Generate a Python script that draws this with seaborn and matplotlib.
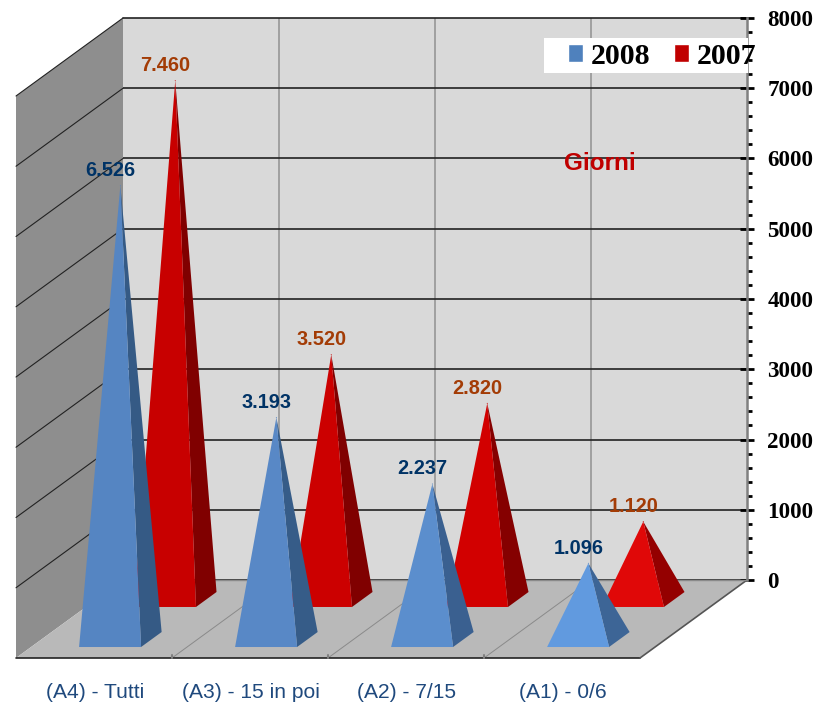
import matplotlib
matplotlib.use("Agg")
import matplotlib.pyplot as plt
from matplotlib.patches import Patch, Polygon, Rectangle
from matplotlib.ticker import MultipleLocator
import pandas as pd
import seaborn as sns

categories = ["(A4) - Tutti", "(A3) - 15 in poi", "(A2) - 7/15", "(A1) - 0/6"]
values_2008 = [6526, 3193, 2237, 1096]
values_2007 = [7460, 3520, 2820, 1120]
value_labels_2008 = ["6.526", "3.193", "2.237", "1.096"]
value_labels_2007 = ["7.460", "3.520", "2.820", "1.120"]

front_2008 = ["#5585c2", "#5888c6", "#5b8ecd", "#619adf"]
side_2008 = ["#355a85", "#365c88", "#3a6090", "#3d6596"]
front_2007 = ["#c80000", "#cc0000", "#d20000", "#e00808"]
side_2007 = ["#800000", "#800000", "#850000", "#940000"]

W, H = 818, 703
WALL_L, WALL_R, WALL_B, WALL_T = 123, 747, 580, 18
PX_PER_CAT = (WALL_R - WALL_L) / 4
PX_PER_VAL = (WALL_B - WALL_T) / 8000
DEPTH_DX, DEPTH_DY = 107, 78
SHX = DEPTH_DX / PX_PER_CAT
SHY = DEPTH_DY / PX_PER_VAL


def proj(x, depth, v=0.0):
    return x + (depth - 1) * SHX, v - (1 - depth) * SHY


sns.set_theme(style="white")
fig = plt.figure(figsize=(W / 100, H / 100), dpi=100, facecolor="white")
ax = fig.add_axes([WALL_L / W, 1 - WALL_B / H, (WALL_R - WALL_L) / W, (WALL_B - WALL_T) / H])
ax.set_facecolor("#d9d9d9")

# side wall and floor
ax.add_patch(Polygon([proj(0, 0, 0), proj(0, 1, 0), proj(0, 1, 8000), proj(0, 0, 8000)],
                     closed=True, fc="#8e8e8e", ec="none", clip_on=False, zorder=1))
ax.add_patch(Polygon([proj(0, 0), proj(4, 0), proj(4, 1), proj(0, 1)],
                     closed=True, fc="#b9b9b9", ec="none", clip_on=False, zorder=1.2))
for v in range(1000, 9000, 1000):
    ax.plot(*zip(proj(0, 0, v), proj(0, 1, v)), color="#222222", lw=0.8, clip_on=False, zorder=1.4)
for c in (1, 2, 3):
    ax.plot(*zip(proj(c, 0), proj(c, 1)), color="#8a8a8a", lw=0.7, clip_on=False, zorder=1.4)
    ax.plot(*zip(proj(c, 0, 0), proj(c, 0, 40)), color="#808080", lw=1.5, clip_on=False, zorder=1.6)
ax.plot(*zip(proj(0, 0), proj(4, 0)), color="#222222", lw=1.2, clip_on=False, zorder=1.5)
ax.plot(*zip(proj(4, 0), proj(4, 1)), color="#555555", lw=1.2, clip_on=False, zorder=1.5)

# pyramids
HALF = 31 / PX_PER_CAT
HEIGHT_FIX = 0.99
PYR_SHIFT = 1 / PX_PER_CAT
apex_rows = []


def pyramid(i, val, d_front, d_back, fc_front, fc_side):
    cx = i + 0.5 + PYR_SHIFT
    fl = proj(cx - HALF, d_front)
    fr = proj(cx + HALF, d_front)
    br = proj(cx + HALF, d_back)
    ax_c, y_c = proj(cx, (d_front + d_back) / 2)
    apex = (ax_c, y_c + val * HEIGHT_FIX)
    ax.add_patch(Polygon([fr, br, apex], closed=True, fc=fc_side, ec="none", clip_on=False, zorder=3))
    ax.add_patch(Polygon([fl, fr, apex], closed=True, fc=fc_front, ec="none", clip_on=False, zorder=3))
    return apex


DEPTH_2007 = (0.654, 0.846)
DEPTH_2008 = (0.141, 0.333)
for i in range(4):
    a = pyramid(i, values_2007[i], *DEPTH_2007, front_2007[i], side_2007[i])
    apex_rows.append(dict(x=a[0], y=a[1], year="2007", label=value_labels_2007[i]))
for i in range(4):
    a = pyramid(i, values_2008[i], *DEPTH_2008, front_2008[i], side_2008[i])
    apex_rows.append(dict(x=a[0], y=a[1], year="2008", label=value_labels_2008[i]))

apex = pd.DataFrame(apex_rows)
sns.scatterplot(data=apex, x="x", y="y", hue="year", palette={"2007": "#c80000", "2008": "#5585c2"},
                s=0.5, linewidth=0, legend=False, ax=ax, clip_on=False, zorder=3)

for _, r in apex.iterrows():
    ax.annotate(r["label"], (r["x"], r["y"]), xytext=(-7.2, 11.0), textcoords="offset points",
                ha="center", va="center", fontsize=14.4, fontweight="bold",
                family="Liberation Sans", color="#003366" if r["year"] == "2008" else "#a33c06",
                annotation_clip=False, zorder=5)

# axes scales and ticks
ax.set_xlim(0, 4)
ax.set_ylim(0, 8000)
ax.set_xlabel("")
ax.set_ylabel("")
ax.set_xticks([1, 2, 3])
ax.set_xticklabels([])
ax.yaxis.set_major_locator(MultipleLocator(1000))
ax.yaxis.set_minor_locator(MultipleLocator(200))
ax.yaxis.tick_right()
ax.tick_params(axis="x", length=0)
ax.tick_params(axis="y", which="major", direction="inout", length=10.5, width=2, color="black",
               pad=9.5, labelsize=16.6, right=True, left=False)
ax.tick_params(axis="y", which="minor", direction="out", length=3.8, width=2, color="black",
               right=True, left=False)
for t in ax.get_yticklabels():
    t.set_family("Liberation Serif")
    t.set_fontweight("bold")
    t.set_color("black")
ax.set_axisbelow(True)
ax.yaxis.grid(True, which="major", color="#222222", lw=1.2, clip_on=False, zorder=0.5)
ax.xaxis.grid(True, color="#a0a0a0", lw=1.4, zorder=0.5)
for s in ("top", "left"):
    ax.spines[s].set_visible(False)
ax.spines["right"].set_color("#808080")
ax.spines["right"].set_linewidth(1.8)
ax.spines["bottom"].set_color("#8a8a8a")
ax.spines["bottom"].set_linewidth(1)
ax.spines["bottom"].set_zorder(1.6)

# category labels
for i, c in enumerate(categories):
    x, _ = proj(i + 0.5, 0)
    tx = ax.transData.transform((x, 0))[0] / W
    fig.text(tx + 1 / W, 1 - 698 / H, c, ha="center", va="baseline", fontsize=15.1,
             family="Liberation Sans", color="#1f497d")

fig.text(600 / W, 1 - 164 / H, "Giorni", ha="center", va="center", fontsize=17.5,
         fontweight="bold", family="Liberation Sans", color="#c00000", zorder=5)

# legend
fig.add_artist(Rectangle((544 / W, 1 - 73 / H), 204 / W, 35 / H, transform=fig.transFigure,
                         fc="white", ec="none", zorder=6))
leg = fig.legend(handles=[Patch(fc="#4f81bd", label="2008"), Patch(fc="#c00000", label="2007")],
                 ncol=2, frameon=False, loc="center left", bbox_to_anchor=(567.5 / W, 1 - 56 / H),
                 borderpad=0, borderaxespad=0, handlelength=0.52, handleheight=0.52,
                 handletextpad=0.26, columnspacing=0.78, labelcolor="black",
                 prop=dict(family="Liberation Serif", weight="bold", size=21.5))
leg.set_zorder(7)

fig.savefig("out.png", dpi=100)
